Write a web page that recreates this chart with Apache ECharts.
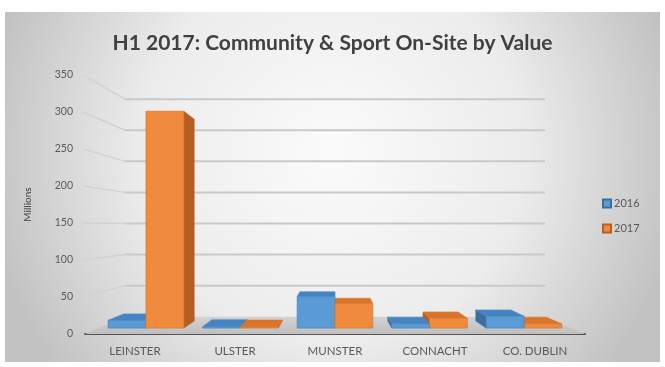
<!DOCTYPE html>
<html>
<head>
<meta charset="utf-8">
<script src="https://cdn.jsdelivr.net/npm/echarts@6/dist/echarts.min.js"></script>
<style>
  html, body { margin: 0; padding: 0; background: #ffffff; }
  #chart { width: 665px; height: 367px; }
</style>
</head>
<body>
<div id="chart"></div>
<script>
// Data
const regions = ['LEINSTER', 'ULSTER', 'MUNSTER', 'CONNACHT', 'CO. DUBLIN'];
const values2016 = [11, 2, 45, 6, 17];
const values2017 = [310, 1.5, 35, 14, 6];
const yTicks = [50, 100, 150, 200, 250, 300, 350];

// Perspective set-up: everything is projected towards an eye point above the floor.
const EYE_ABOVE_FLOOR = 108;  // px above the zero line
const WALL_SCALE = 0.84;      // back wall / floor back edge
const BAR_FRONT = 0.945;      // front faces of the columns
const BAR_BACK = 0.88;        // back faces of the columns
const BAR_SHARE = 0.4;        // share of a category band taken by one column

function eyePoint(api) {
  const mid = api.coord([Math.floor(regions.length / 2), 0]);
  return [mid[0], mid[1] - EYE_ABOVE_FLOOR];
}
function project(p, s, V) {
  return [V[0] + s * (p[0] - V[0]), V[1] + s * (p[1] - V[1])];
}
// Outer edges of the category axis at a given value
function axisEnds(api, value) {
  const half = api.size([1, 0])[0] / 2;
  const a = api.coord([0, value]);
  const b = api.coord([regions.length - 1, value]);
  return [[a[0] - half, a[1]], [b[0] + half, b[1]]];
}

const faceColors = {
  '2016': { front: '#5B9BD5', top: '#4583C2', side: '#3A6E9E', edge: '#4A87C0' },
  '2017': { front: '#F08A3C', top: '#D8742C', side: '#B45E22', edge: '#D97A33' }
};

function columnRenderer(year, side) {
  const col = faceColors[year];
  return function (params, api) {
    const ci = api.value(0);
    const v = api.value(1);
    const V = eyePoint(api);
    const base = api.coord([ci, 0]);
    const top = api.coord([ci, v]);
    const band = api.size([1, 0])[0];
    const w = band * BAR_SHARE;
    const x0 = side < 0 ? base[0] - w : base[0];
    const x1 = x0 + w;
    const yb = base[1], yt = top[1];
    const F = (x, y) => project([x, y], BAR_FRONT, V);
    const B = (x, y) => project([x, y], BAR_BACK, V);
    const dist = Math.abs((x0 + x1) / 2 - V[0]);
    const z = Math.round((1000 - dist) * 3);
    const children = [];
    // side face, facing the eye point
    if (x1 < V[0]) {
      children.push({ type: 'polygon', z2: z,
        shape: { points: [F(x1, yb), F(x1, yt), B(x1, yt), B(x1, yb)] },
        style: { fill: col.side, stroke: col.side, lineWidth: 0.6 } });
    } else if (x0 > V[0]) {
      children.push({ type: 'polygon', z2: z,
        shape: { points: [F(x0, yb), F(x0, yt), B(x0, yt), B(x0, yb)] },
        style: { fill: col.side, stroke: col.side, lineWidth: 0.6 } });
    }
    // top face
    if (yt > V[1]) {
      children.push({ type: 'polygon', z2: z + 1,
        shape: { points: [F(x0, yt), F(x1, yt), B(x1, yt), B(x0, yt)] },
        style: { fill: col.top, stroke: col.edge, lineWidth: 0.6 } });
    }
    // front face
    const f0 = F(x0, yt), f1 = F(x1, yb);
    children.push({ type: 'rect', z2: z + 2,
      shape: { x: f0[0], y: f0[1], width: f1[0] - f0[0], height: f1[1] - f0[1] },
      style: { fill: col.front, stroke: col.edge, lineWidth: 0.8 } });
    return { type: 'group', children: children };
  };
}

// Back wall gridlines with their leaders to the value labels
function wallRenderer(params, api) {
  const V = eyePoint(api);
  const ends = axisEnds(api, api.value(0));
  const left = ends[0], right = ends[1];
  const bl = project(left, WALL_SCALE, V);
  const br = project(right, WALL_SCALE, V);
  return { type: 'group', children: [
    { type: 'line', shape: { x1: left[0] - 2, y1: left[1], x2: bl[0], y2: bl[1] },
      style: { stroke: '#d2d2d2', lineWidth: 1.4 } },
    { type: 'line', shape: { x1: bl[0], y1: bl[1], x2: br[0], y2: br[1] },
      style: { stroke: '#c9c9c9', lineWidth: 2 } }
  ] };
}
// Floor of the plot
function floorRenderer(params, api) {
  const V = eyePoint(api);
  const ends = axisEnds(api, 0);
  const left = ends[0], right = ends[1];
  return { type: 'polygon',
    shape: { points: [left, right, project(right, WALL_SCALE, V), project(left, WALL_SCALE, V)] },
    style: { fill: new echarts.graphic.LinearGradient(0, 0, 0, 1, [
      { offset: 0, color: '#d2d2d2' },
      { offset: 1, color: '#bfbfbf' }
    ]) } };
}

const chart = echarts.init(document.getElementById('chart'), null, { renderer: 'canvas' });
chart.setOption({
  animation: false,
  graphic: [{
    type: 'rect', z: -10,
    shape: { x: 5, y: 12, width: 655, height: 350 },
    style: { fill: new echarts.graphic.RadialGradient(0.5, 0.4, 1, [
      { offset: 0, color: '#fbfbfb' },
      { offset: 0.55, color: '#ececec' },
      { offset: 1, color: '#c2c2c2' }
    ]) }
  }],
  title: {
    text: 'H1 2017: Community & Sport On-Site by Value',
    left: 'center', top: 28,
    textStyle: { fontFamily: 'Lato', fontWeight: 'bold', fontSize: 21, color: '#404040' }
  },
  legend: {
    data: ['2016', '2017'],
    orient: 'vertical', left: 597, top: 193,
    icon: 'rect', itemWidth: 8, itemHeight: 8, itemGap: 14,
    textStyle: { fontFamily: 'Lato', fontSize: 11, color: '#595959', padding: [0, 0, 0, -2] }
  },
  grid: { left: 85, right: 80, top: 75, bottom: 33 },
  xAxis: {
    type: 'category', data: regions,
    axisLine: { lineStyle: { color: '#555555', width: 2 } },
    axisTick: { show: false },
    axisLabel: { fontFamily: 'Lato', fontSize: 11.5, color: '#595959', margin: 11 }
  },
  yAxis: {
    type: 'value', min: 0, max: 350, interval: 50,
    name: 'Millions', nameLocation: 'middle', nameGap: 52,
    nameTextStyle: { fontFamily: 'Lato', fontSize: 10, color: '#404040' },
    axisLine: { show: false }, axisTick: { show: false }, splitLine: { show: false },
    axisLabel: { fontFamily: 'Lato', fontSize: 10.5, color: '#595959', margin: 12 }
  },
  series: [
    { type: 'custom', name: 'floor', z: 1, silent: true, renderItem: floorRenderer,
      data: [[0]], encode: { y: 0 } },
    { type: 'custom', name: 'wall', z: 1, silent: true, renderItem: wallRenderer,
      data: yTicks.map(t => [t]), encode: { y: 0 } },
    { type: 'custom', name: '2016', z: 2,
      itemStyle: { color: '#5B9BD5', borderColor: '#3A6E9E', borderWidth: 1 },
      renderItem: columnRenderer('2016', -1),
      data: values2016.map((v, i) => [i, v]), encode: { x: 0, y: 1 } },
    { type: 'custom', name: '2017', z: 2,
      itemStyle: { color: '#F08A3C', borderColor: '#B45E22', borderWidth: 1 },
      renderItem: columnRenderer('2017', 1),
      data: values2017.map((v, i) => [i, v]), encode: { x: 0, y: 1 } }
  ]
});
</script>
</body>
</html>
